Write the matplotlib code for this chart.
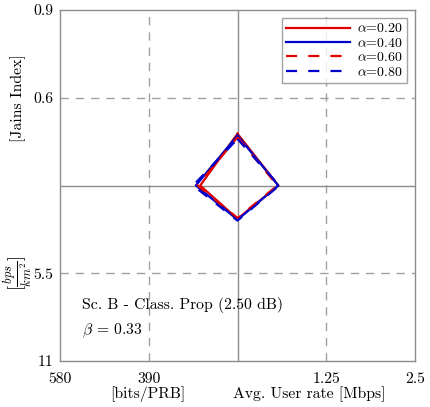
import matplotlib.pyplot as plt

plt.rcParams['font.family'] = 'serif'
plt.rcParams['font.serif'] = ['cmr10']
plt.rcParams['mathtext.fontset'] = 'cm'
plt.rcParams['axes.unicode_minus'] = False

# ejes del radar: arriba, derecha, abajo, izquierda (valores normalizados)
alphas = ["0.20", "0.40", "0.60", "0.80"]
jains = [0.59, 0.57, 0.55, 0.53]
user_rate = [0.46, 0.46, 0.45, 0.47]
bps_km2 = [-0.38, -0.39, -0.37, -0.40]
bits_prb = [-0.42, -0.47, -0.45, -0.50]

colores = ["#e00000", "#0000cc", "#e00000", "#0000cc"]
estilos = ["-", "-", "--", "--"]

x_ticks = [-2, -1, 1, 2]
x_labels = ["580", "390", "1.25", "2.5"]
y_ticks = [-2, -1, 1, 2]
y_labels = ["11", "5.5", "0.6", "0.9"]

fig = plt.figure(figsize=(4.3, 4.07), dpi=100)
ax = fig.add_axes([60/430, 46/407, 355/430, 351/407])

gris = "#8c8c8c"
for v in [-1, 1]:
    ax.axvline(v, color="#a0a0a0", lw=1.0, ls=(0, (6, 5)), zorder=1)
    ax.axhline(v, color="#a0a0a0", lw=1.0, ls=(0, (6, 5)), zorder=1)
ax.axvline(0, color=gris, lw=1.0, zorder=1)
ax.axhline(0, color=gris, lw=1.0, zorder=1)

for i in range(len(alphas)):
    xs = [0, user_rate[i], 0, bits_prb[i], 0]
    ys = [jains[i], 0, bps_km2[i], 0, jains[i]]
    if estilos[i] == "--":
        ax.plot(xs, ys, color=colores[i], lw=1.6, dashes=(5, 5),
                label=r"$\alpha$=" + alphas[i], zorder=3)
    else:
        ax.plot(xs, ys, color=colores[i], lw=1.6,
                label=r"$\alpha$=" + alphas[i], zorder=3)

ax.set_xlim(-2, 2)
ax.set_ylim(-2, 2)
ax.set_xticks(x_ticks)
ax.set_xticklabels(x_labels, fontsize=11.3)
ax.set_yticks(y_ticks)
ax.set_yticklabels(y_labels, fontsize=11.3)
ax.tick_params(length=0)
ax.tick_params(axis="x", pad=8)
ax.tick_params(axis="y", pad=5)
for s in ax.spines.values():
    s.set_color(gris)
    s.set_linewidth(1.0)

ax.text(-1.75, -1.36, "Sc. B - Class. Prop (2.50 dB)", fontsize=11.3, va="center")
ax.text(-1.75, -1.66, r"$\beta$ = 0.33", fontsize=11.3, va="center")

fig.text(148/430, 1 - 394/407, "[bits/PRB]", ha="center", va="center", fontsize=11.3)
fig.text(309/430, 1 - 394/407, "Avg. User rate [Mbps]", ha="center", va="center", fontsize=11.3)
fig.text(18/430, 1 - 98/407, "[Jains Index]", ha="center", va="center", rotation=90, fontsize=11.3)
fig.text(18/430, 1 - 273/407, r"$[\frac{bps}{km^2}]$", ha="center", va="center", rotation=90, fontsize=13)

leg = ax.legend(loc="upper right", fontsize=10, frameon=True, fancybox=False,
                edgecolor=gris, handlelength=4.6, borderaxespad=0.6,
                labelspacing=0.1, handletextpad=0.5, borderpad=0.3)
leg.get_frame().set_linewidth(1.0)

plt.savefig("out.png", dpi=100)
